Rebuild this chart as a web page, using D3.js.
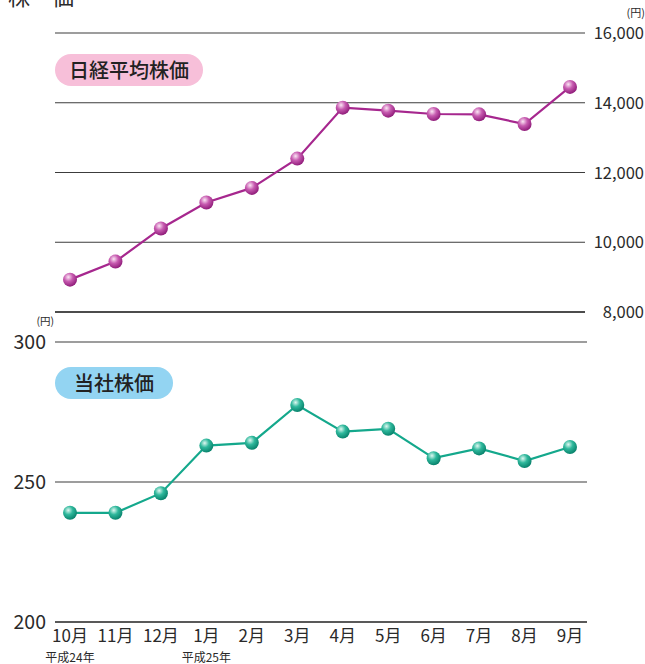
<!DOCTYPE html>
<html>
  <head>
    <meta charset="utf-8">
    <title>株価</title>
    <style>
      body { margin: 0; background: #fff; }
      svg { display: block; font-family: "Noto Sans CJK JP", "Noto Sans", sans-serif; }
      .grid { stroke: #3c3c3c; stroke-width: 1.2px; }
      .lbl { fill: #2a2a2a; }
    </style>
  </head>
  <body>
    <svg width="645" height="664"></svg>
    <script src="https://d3js.org/d3.v7.min.js"></script>
    <script>
      // months on the x axis
      const months = ["10月", "11月", "12月", "1月", "2月", "3月", "4月", "5月", "6月", "7月", "8月", "9月"];
      // Nikkei average (yen, month end)
      const nikkei = [8928, 9446, 10395, 11139, 11559, 12398, 13860, 13774, 13677, 13668, 13389, 14455];
      // company share price (yen)
      const company = [239, 239, 246, 263, 264, 277.5, 268, 269, 258.5, 262, 257.5, 262.5];
      const nikkeiTicks = [8000, 10000, 12000, 14000, 16000];
      const companyTicks = [200, 250, 300];
      const eraLabels = [{ at: "10月", text: "平成24年" }, { at: "1月", text: "平成25年" }];

      const svg = d3.select("svg");

      const x = d3.scalePoint().domain(months).range([55, 585]).padding(0.33);
      const yTop = d3.scaleLinear().domain([8000, 16000]).range([312, 33]);
      const yBot = d3.scaleLinear().domain([200, 300]).range([622, 342]);

      // gradients for the ball markers
      const defs = svg.append("defs");
      function ball(id, light, mid, dark) {
        const g = defs.append("radialGradient").attr("id", id)
          .attr("cx", "38%").attr("cy", "32%").attr("r", "70%");
        g.append("stop").attr("offset", "0%").attr("stop-color", light);
        g.append("stop").attr("offset", "45%").attr("stop-color", mid);
        g.append("stop").attr("offset", "100%").attr("stop-color", dark);
      }
      ball("pinkBall", "#fbe6f4", "#c75bb0", "#8e1a78");
      ball("tealBall", "#dff8f1", "#2fb89c", "#07806a");

      // page title, cut off at the top
      svg.append("text").attr("x", 8).attr("y", 5)
        .style("font-size", "22px").attr("class", "lbl").text("株　価");

      // ---- Nikkei (top) ----
      svg.selectAll(".gTop").data(nikkeiTicks).join("line")
        .attr("class", "grid")
        .attr("x1", 55).attr("x2", 585)
        .attr("y1", d => yTop(d)).attr("y2", d => yTop(d))
        .style("stroke", d => d === 8000 ? "#111" : "#3c3c3c")
        .style("stroke-width", d => d === 8000 ? 1.7 : 1.2);

      svg.selectAll(".tTop").data(nikkeiTicks).join("text")
        .attr("class", "lbl")
        .attr("x", 644).attr("y", d => yTop(d) + 6)
        .attr("text-anchor", "end")
        .style("font-size", "16.5px")
        .text(d => d3.format(",")(d));

      svg.append("text").attr("class", "lbl").attr("x", 645).attr("y", 17)
        .attr("text-anchor", "end").style("font-size", "11px").text("(円)");

      svg.append("rect").attr("x", 55).attr("y", 54).attr("width", 148).attr("height", 32)
        .attr("rx", 16).attr("fill", "#f7bfd9");
      svg.append("text").attr("x", 129).attr("y", 78).attr("text-anchor", "middle")
        .style("font-size", "20px").style("font-weight", 500).attr("fill", "#222")
        .text("日経平均株価");

      svg.append("path").datum(nikkei)
        .attr("fill", "none").attr("stroke", "#a6278e").attr("stroke-width", 2.2)
        .attr("d", d3.line().x((d, i) => x(months[i])).y(d => yTop(d)));

      svg.selectAll(".pTop").data(nikkei).join("circle")
        .attr("cx", (d, i) => x(months[i])).attr("cy", d => yTop(d))
        .attr("r", 7).attr("fill", "url(#pinkBall)");

      // ---- company (bottom) ----
      svg.selectAll(".gBot").data(companyTicks).join("line")
        .attr("class", "grid")
        .attr("x1", 55).attr("x2", 587)
        .attr("y1", d => yBot(d)).attr("y2", d => yBot(d))
        .style("stroke", d => d === 200 ? "#222" : "#3c3c3c")
        .style("stroke-width", d => d === 200 ? 1.7 : 1.2);

      svg.selectAll(".tBot").data(companyTicks).join("text")
        .attr("class", "lbl")
        .attr("x", 46).attr("y", d => yBot(d) + 7)
        .attr("text-anchor", "end")
        .style("font-size", "19.5px")
        .text(d => d);

      svg.append("text").attr("class", "lbl").attr("x", 54).attr("y", 325)
        .attr("text-anchor", "end").style("font-size", "10.5px").text("(円)");

      svg.append("rect").attr("x", 55).attr("y", 367).attr("width", 118).attr("height", 32)
        .attr("rx", 16).attr("fill", "#93d4f2");
      svg.append("text").attr("x", 114).attr("y", 391).attr("text-anchor", "middle")
        .style("font-size", "20px").style("font-weight", 500).attr("fill", "#222")
        .text("当社株価");

      svg.append("path").datum(company)
        .attr("fill", "none").attr("stroke", "#14a88c").attr("stroke-width", 2.2)
        .attr("d", d3.line().x((d, i) => x(months[i])).y(d => yBot(d)));

      svg.selectAll(".pBot").data(company).join("circle")
        .attr("cx", (d, i) => x(months[i])).attr("cy", d => yBot(d))
        .attr("r", 7).attr("fill", "url(#tealBall)");

      // month labels
      svg.selectAll(".mLbl").data(months).join("text")
        .attr("class", "lbl")
        .attr("x", d => x(d)).attr("y", 642)
        .attr("text-anchor", "middle")
        .style("font-size", "17px")
        .text(d => d);

      svg.selectAll(".eLbl").data(eraLabels).join("text")
        .attr("class", "lbl")
        .attr("x", d => x(d.at)).attr("y", 662)
        .attr("text-anchor", "middle")
        .style("font-size", "12px")
        .text(d => d.text);
    </script>
  </body>
</html>
